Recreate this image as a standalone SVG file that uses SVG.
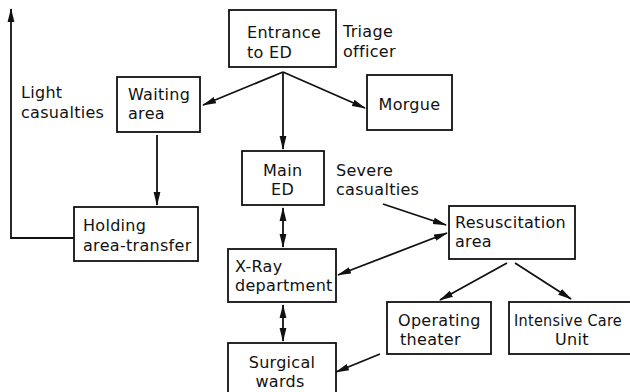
<svg xmlns="http://www.w3.org/2000/svg" width="630" height="392" viewBox="0 0 630 392">
<style>
rect{fill:#fff;stroke:#111;stroke-width:1.8}
text{font-family:"DejaVu Sans","Liberation Sans",sans-serif;font-size:16px;letter-spacing:0.3px;fill:#111}
.c path{fill:none;stroke:#111;stroke-width:1.8}
</style>
<defs>
<marker id="ah" viewBox="0 0 14 8" refX="13" refY="4" markerWidth="14" markerHeight="8" markerUnits="userSpaceOnUse" orient="auto-start-reverse">
<path d="M0,0.6 L14,4 L0,7.4 Z" fill="#111"/>
</marker>
</defs>
<rect x="0" y="0" width="630" height="392" style="stroke:none"/>
<g class="c" id="connectors">
<path d="M283,72 L203,105" marker-end="url(#ah)"/>
<path d="M283,72 L283,149" marker-end="url(#ah)"/>
<path d="M283,72 L365,108" marker-end="url(#ah)"/>
<path d="M157,135 L157,205" marker-end="url(#ah)"/>
<path d="M74,238 L11,238 L11,9" marker-end="url(#ah)"/>
<path d="M283,208 L283,247" marker-start="url(#ah)" marker-end="url(#ah)"/>
<path d="M283,305 L283,341" marker-start="url(#ah)" marker-end="url(#ah)"/>
<path d="M383,204 L446,225" marker-end="url(#ah)"/>
<path d="M338,275 L447,233" marker-start="url(#ah)" marker-end="url(#ah)"/>
<path d="M507,263 L440,300" marker-end="url(#ah)"/>
<path d="M515,263 L571,299" marker-end="url(#ah)"/>
<path d="M380,354 L336,372" marker-end="url(#ah)"/>
</g>
<g id="entrance"><rect x="229" y="10" width="107" height="57"/><text x="247" y="38">Entrance</text><text x="247" y="58">to ED</text></g>
<g id="triage"><text x="343" y="37">Triage</text><text x="343" y="57">officer</text></g>
<g id="light"><text x="21" y="98">Light</text><text x="21" y="118">casualties</text></g>
<g id="waiting"><rect x="117" y="77" width="83" height="55"/><text x="128" y="100">Waiting</text><text x="128" y="119">area</text></g>
<g id="morgue"><rect x="367" y="75" width="85" height="55"/><text x="409.5" y="110" text-anchor="middle">Morgue</text></g>
<g id="mained"><rect x="242" y="151" width="82" height="54"/><text x="263" y="176">Main</text><text x="271" y="195">ED</text></g>
<g id="severe"><text x="336" y="176">Severe</text><text x="336" y="195">casualties</text></g>
<g id="holding"><rect x="74" y="207" width="124" height="54"/><text x="83" y="231">Holding</text><text x="83" y="251">area-transfer</text></g>
<g id="xray"><rect x="228" y="249" width="108" height="53"/><text x="235" y="272">X-Ray</text><text x="235" y="291">department</text></g>
<g id="resus"><rect x="449" y="206" width="126" height="53"/><text x="455" y="228">Resuscitation</text><text x="455" y="247">area</text></g>
<g id="operating"><rect x="387" y="302" width="104" height="52"/><text x="398" y="326">Operating</text><text x="400" y="345">theater</text></g>
<g id="icu"><rect x="509" y="302" width="140" height="52"/><text x="514" y="326" textLength="108" lengthAdjust="spacingAndGlyphs">Intensive Care</text><text x="572" y="345" text-anchor="middle">Unit</text></g>
<g id="surgical"><rect x="228" y="343" width="108" height="60"/><text x="282" y="368" text-anchor="middle">Surgical</text><text x="280" y="387" text-anchor="middle">wards</text></g>
</svg>
